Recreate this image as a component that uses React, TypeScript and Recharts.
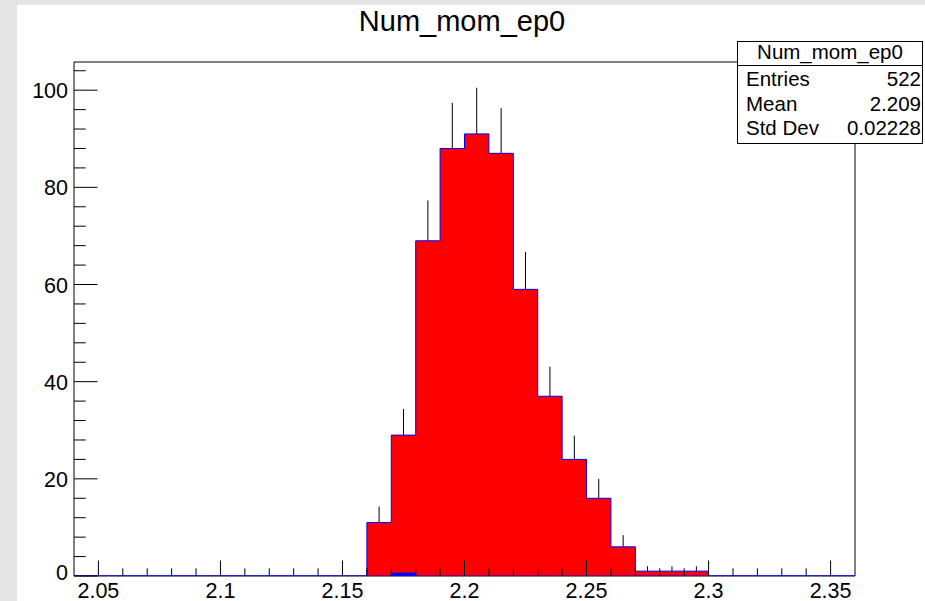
import React from 'react';
import { ComposedChart, XAxis, YAxis, Area, Scatter, ErrorBar, ReferenceLine } from 'recharts';

// ---- data ----
const binLowEdges = [2.16, 2.17, 2.18, 2.19, 2.2, 2.21, 2.22, 2.23, 2.24, 2.25, 2.26, 2.27, 2.28, 2.29];
const binCenters = [2.165, 2.175, 2.185, 2.195, 2.205, 2.215, 2.225, 2.235, 2.245, 2.255, 2.265, 2.275, 2.285, 2.295];
const counts = [11, 29, 69, 88, 91, 87, 59, 37, 24, 16, 6, 1, 1, 1];
const errUp = [3.3, 5.4, 8.3, 9.4, 9.5, 9.3, 7.7, 6.1, 4.9, 4.0, 2.4, 1.0, 1.0, 1.0];
const blueCounts = [0, 0.6, 0, 0, 0, 0, 0, 0, 0, 0, 0, 0, 0, 0];
const xMin = 2.04;
const xMax = 2.36;
const histEnd = 2.3;
const yMax = 105.8;

const xMajorTicks = [2.05, 2.1, 2.15, 2.2, 2.25, 2.3, 2.35];
const xTickLabels = ['2.05', '2.1', '2.15', '2.2', '2.25', '2.3', '2.35'];
const xMinorTicks = [
  2.05, 2.06, 2.07, 2.08, 2.09, 2.1, 2.11, 2.12, 2.13, 2.14, 2.15, 2.16, 2.17, 2.18, 2.19, 2.2,
  2.21, 2.22, 2.23, 2.24, 2.25, 2.26, 2.27, 2.28, 2.29, 2.3, 2.31, 2.32, 2.33, 2.34, 2.35,
];
const yMajorTicks = [0, 20, 40, 60, 80, 100];
const yTickLabels = ['0', '20', '40', '60', '80', '100'];
const yMinorTicks = [
  0, 4, 8, 12, 16, 20, 24, 28, 32, 36, 40, 44, 48, 52, 56, 60, 64, 68, 72, 76, 80, 84, 88, 92, 96, 100, 104,
];

const title = 'Num_mom_ep0';
const statsTitle = 'Num_mom_ep0';
const statsNames = ['Entries', 'Mean', 'Std Dev'];
const statsValues = ['522', '2.209', '0.02228'];

// ---- tables built for the library ----
const histData = [
  { x: xMin, h: 0, b: 0 },
  ...binLowEdges.map((x, i) => ({ x, h: counts[i], b: blueCounts[i] })),
  { x: histEnd, h: 0, b: 0 },
  { x: xMax, h: 0, b: 0 },
];
const errData = binCenters.map((x, i) => ({ x, y: counts[i], e: [0, errUp[i]] }));

const FONT = '"Liberation Sans", Arial, Helvetica, sans-serif';

const findIdx = (arr: number[], v: number) => arr.findIndex((t) => Math.abs(t - v) < 1e-6);

const XTick = (props: any) => {
  const { x, y, payload } = props;
  const idx = findIdx(xMajorTicks, payload.value);
  const major = idx >= 0;
  return (
    <g>
      <line x1={x} x2={x} y1={y} y2={y - (major ? 15.5 : 7.7)} stroke="#000" strokeWidth={1} />
      {major && (
        <text x={x} y={y + 22} textAnchor="middle" fontSize={21.5} fontFamily={FONT} fill="#000">
          {xTickLabels[idx]}
        </text>
      )}
    </g>
  );
};

const YTick = (props: any) => {
  const { x, y, payload } = props;
  const idx = findIdx(yMajorTicks, payload.value);
  const major = idx >= 0;
  return (
    <g>
      <line x1={x} x2={x + (major ? 23.5 : 11.7)} y1={y} y2={y} stroke="#000" strokeWidth={1} />
      {major && (
        <text x={x - 6} y={payload.value === 0 ? y + 4 : y + 8} textAnchor="end" fontSize={21.5} fontFamily={FONT} fill="#000">
          {yTickLabels[idx]}
        </text>
      )}
    </g>
  );
};

const NoShape = () => <g />;

export default function App() {
  return (
    <div
      style={{
        position: 'absolute',
        left: 0,
        top: 0,
        width: 925,
        height: 601,
        background: '#e5e5e5',
        overflow: 'hidden',
        fontFamily: FONT,
      }}
    >
      <div style={{ position: 'absolute', left: 17, top: 5, width: 908, height: 596, background: '#ffffff' }} />
      <div style={{ position: 'absolute', left: 0, top: 0 }}>
        <ComposedChart
          width={925}
          height={601}
          data={histData}
          margin={{ top: 62, right: 70, bottom: 0, left: 0 }}
        >
          <XAxis
            type="number"
            dataKey="x"
            domain={[xMin, xMax]}
            allowDataOverflow
            ticks={xMinorTicks}
            interval={0}
            tick={<XTick />}
            tickLine={false}
            tickSize={0}
            tickMargin={0}
            height={25}
            axisLine={{ stroke: '#000', strokeWidth: 1 }}
          />
          <YAxis
            type="number"
            domain={[0, yMax]}
            allowDataOverflow
            ticks={yMinorTicks}
            interval={0}
            tick={<YTick />}
            tickLine={false}
            tickSize={0}
            tickMargin={0}
            width={74}
            axisLine={{ stroke: '#000', strokeWidth: 1 }}
          />
          <ReferenceLine y={yMax} stroke="#000" strokeWidth={1} />
          <ReferenceLine x={xMax} stroke="#000" strokeWidth={1} />
          <Area
            type="stepAfter"
            dataKey="h"
            stroke="#0000ff"
            strokeWidth={1}
            fill="#ff0000"
            fillOpacity={1}
            isAnimationActive={false}
            dot={false}
            activeDot={false}
            zIndex={550}
          />
          <Area
            type="stepAfter"
            dataKey="b"
            stroke="#0000ff"
            strokeWidth={1}
            fill="#0000ff"
            fillOpacity={1}
            isAnimationActive={false}
            dot={false}
            activeDot={false}
            zIndex={560}
          />
          <Scatter data={errData} dataKey="y" shape={<NoShape />} isAnimationActive={false}>
            <ErrorBar dataKey="e" direction="y" width={0} stroke="#000" strokeWidth={1} isAnimationActive={false} />
          </Scatter>
        </ComposedChart>
      </div>
      <svg width={925} height={601} style={{ position: 'absolute', left: 0, top: 0 }}>
        <text x={462} y={31} textAnchor="middle" fontSize={29} fontFamily={FONT} fill="#000">
          {title}
        </text>
        <rect x={737.5} y={41.5} width={185} height={102} fill="#fff" stroke="#000" strokeWidth={1} />
        <line x1={737.5} x2={922.5} y1={65.5} y2={65.5} stroke="#000" strokeWidth={1} />
        <text x={830} y={59} textAnchor="middle" fontSize={20.5} fontFamily={FONT} fill="#000">
          {statsTitle}
        </text>
        {statsNames.map((n, i) => (
          <g key={n}>
            <text x={746} y={86 + i * 24.5} fontSize={20.5} fontFamily={FONT} fill="#000">
              {n}
            </text>
            <text x={921} y={86 + i * 24.5} textAnchor="end" fontSize={20.5} fontFamily={FONT} fill="#000">
              {statsValues[i]}
            </text>
          </g>
        ))}
      </svg>
    </div>
  );
}
